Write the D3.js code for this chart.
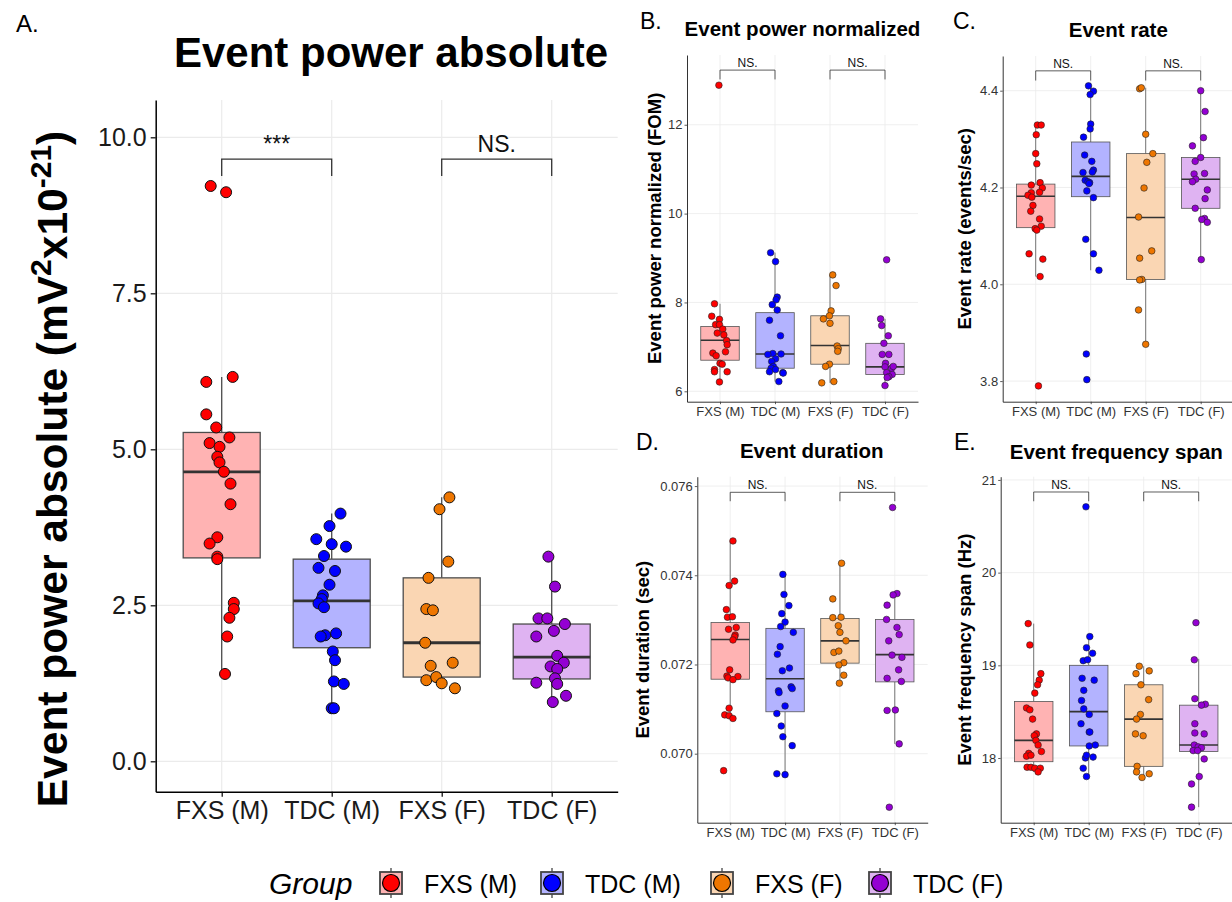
<!DOCTYPE html>
<html><head><meta charset="utf-8">
<script src="https://cdn.jsdelivr.net/npm/d3@7"></script>
<style>body{margin:0;background:#fff;} svg{display:block;font-family:"Liberation Sans",Arial,Helvetica,sans-serif;}</style>
</head><body><svg id="c" width="1232" height="902"></svg>
<script>
// ---------------- DATA ----------------
const groups = ["FXS (M)", "TDC (M)", "FXS (F)", "TDC (F)"];
const pointColors = ["#FF0000", "#0000FF", "#EE7600", "#9400D3"];
const boxFills = ["#FFB3B3", "#B3B3FF", "#FAD6B3", "#DFB3F2"];
const sigPairs = [[0, 1], [2, 3]];

// A. Event power absolute
const powerAbsValues = [
  [9.22,9.12,6.16,6.08,5.56,5.35,5.19,5.10,5.04,4.88,4.79,4.64,4.45,4.12,3.59,3.49,3.28,3.24,2.54,2.44,2.30,2.00,1.40],
  [3.97,3.77,3.56,3.48,3.44,3.29,3.10,3.05,2.83,2.66,2.60,2.53,2.47,2.05,2.02,2.00,1.76,1.62,1.28,1.24,0.85,0.85],
  [4.23,4.04,3.20,2.94,2.44,2.42,1.90,1.58,1.53,1.30,1.35,1.25,1.17],
  [3.28,2.80,2.29,2.29,2.20,2.09,2.00,1.69,1.58,1.52,1.48,1.33,1.26,1.24,1.05,0.95]
];
const powerAbsJitter = [
  [-0.10,0.04,0.10,-0.14,-0.14,-0.05,0.07,-0.11,-0.02,-0.04,-0.02,0.02,0.08,0.08,-0.04,-0.11,-0.04,-0.04,0.11,0.11,0.07,0.05,0.03],
  [0.08,-0.02,-0.14,0.00,0.13,-0.07,-0.12,0.03,-0.02,-0.08,-0.09,-0.12,-0.07,0.04,-0.06,-0.10,0.01,0.03,0.02,0.11,0.00,0.02],
  [0.07,-0.02,0.06,-0.12,-0.14,-0.08,-0.15,0.10,-0.10,-0.14,-0.05,0.00,0.12],
  [-0.03,0.03,-0.12,-0.04,0.12,0.02,-0.14,0.05,0.11,-0.01,0.05,0.03,-0.14,0.05,0.13,0.01]
];
const powerAbsBoxes = [[1.40,3.26,4.64,5.27,6.16],[0.85,1.82,2.57,3.24,3.97],[1.17,1.35,1.90,2.94,4.23],[0.95,1.32,1.67,2.20,3.28]];
const powerAbsTicks = [0, 2.5, 5, 7.5, 10];
const powerAbsSigLabels = ["***", "NS."];
const powerAbsSigLevels = [9.65, 9.38];

// B. Event power normalized
const powerNormValues = [
  [12.89,7.97,7.69,7.62,7.50,7.50,7.40,7.31,7.27,7.14,7.05,6.89,6.86,6.80,6.63,6.61,6.49,6.44,6.44,6.21],
  [9.12,8.92,8.12,8.06,7.95,7.83,7.60,7.25,6.85,6.83,6.84,6.73,6.67,6.56,6.52,6.49,6.44,6.42,6.41,6.22],
  [8.62,8.38,7.81,7.70,7.63,7.53,7.02,6.96,6.90,6.61,6.56,6.19,6.22],
  [8.96,7.63,7.48,7.25,7.08,6.83,6.83,6.63,6.55,6.52,6.56,6.38,6.42,6.33,6.31,6.13]
];
const powerNormJitter = [
  [-0.02,-0.10,-0.15,-0.01,-0.08,-0.01,0.05,-0.05,0.07,0.12,0.13,0.10,-0.13,-0.07,0.00,0.04,-0.10,-0.10,0.13,-0.01],
  [-0.08,0.01,0.04,0.02,-0.05,0.04,-0.10,0.10,-0.04,-0.13,0.11,0.01,-0.06,-0.03,-0.07,0.01,-0.10,0.14,0.15,0.07],
  [0.05,0.11,0.02,-0.01,-0.12,0.00,0.13,0.15,0.14,-0.01,-0.08,-0.15,0.07],
  [0.03,-0.08,-0.06,0.06,-0.02,-0.05,0.07,0.01,0.00,0.12,0.15,0.13,0.03,0.07,0.04,0.00]
];
const powerNormBoxes = [[6.21,6.70,7.15,7.46,7.97],[6.22,6.52,6.84,7.77,9.12],[6.19,6.61,7.03,7.70,8.62],[6.13,6.38,6.55,7.08,7.63]];
const powerNormTicks = [6, 8, 10, 12];
const powerNormSigLabels = ["NS.", "NS."];
const powerNormSigLevels = [13.23, 13.02];

// C. Event rate
const rateValues = [
  [4.329,4.329,4.309,4.270,4.249,4.205,4.210,4.199,4.190,4.189,4.184,4.180,4.163,4.151,4.135,4.120,4.115,4.112,4.063,4.052,4.016,3.790],
  [4.410,4.399,4.392,4.331,4.321,4.304,4.267,4.254,4.236,4.232,4.231,4.215,4.212,4.210,4.208,4.193,4.179,4.093,4.063,4.029,3.856,3.803],
  [4.404,4.406,4.310,4.270,4.252,4.199,4.139,4.069,4.054,4.010,4.009,3.947,3.876],
  [4.400,4.357,4.303,4.286,4.254,4.262,4.229,4.228,4.217,4.212,4.195,4.177,4.157,4.136,4.134,4.128,4.051]
];
const rateJitter = [
  [0.03,0.10,0.01,0.00,0.02,-0.08,0.08,0.12,0.07,-0.08,-0.14,-0.07,-0.05,-0.09,0.07,0.10,-0.01,0.02,-0.12,0.13,0.08,0.05],
  [-0.04,0.05,-0.01,0.00,-0.01,-0.13,-0.11,0.02,0.05,0.03,-0.14,-0.10,-0.05,-0.02,-0.03,-0.07,0.05,-0.09,0.05,0.15,-0.08,-0.07],
  [-0.11,-0.08,0.00,0.13,0.02,-0.03,-0.13,0.11,-0.11,-0.07,-0.11,-0.13,0.00],
  [0.00,0.08,0.05,-0.15,-0.10,0.00,0.07,-0.12,-0.09,-0.15,0.12,0.08,-0.10,0.07,0.02,0.12,0.01]
];
const rateBoxes = [[4.016,4.117,4.182,4.207,4.329],[4.029,4.181,4.223,4.294,4.410],[3.876,4.010,4.138,4.270,4.406],[4.051,4.157,4.217,4.262,4.400]];
const rateTicks = [3.8, 4.0, 4.2, 4.4];
const rateSigLabels = ["NS.", "NS."];
const rateSigLevels = [4.441, 4.421];

// D. Event duration
const durationValues = [
  [0.07477,0.07387,0.07377,0.07323,0.07306,0.07307,0.07279,0.07283,0.07266,0.07262,0.07255,0.07188,0.07174,0.07170,0.07173,0.07166,0.07102,0.07087,0.07085,0.07079,0.06962],
  [0.07402,0.07357,0.07332,0.07314,0.07295,0.07285,0.07272,0.07240,0.07223,0.07192,0.07186,0.07150,0.07146,0.07141,0.07137,0.07107,0.07090,0.07062,0.07038,0.07018,0.06955,0.06953],
  [0.07427,0.07347,0.07305,0.07306,0.07287,0.07272,0.07253,0.07227,0.07230,0.07204,0.07199,0.07176,0.07158],
  [0.07552,0.07359,0.07356,0.07333,0.07301,0.07283,0.07267,0.07253,0.07221,0.07216,0.07188,0.07169,0.07162,0.07097,0.07098,0.07022,0.06880]
];
const durationJitter = [
  [0.05,0.08,-0.02,-0.07,-0.05,0.04,-0.03,0.11,0.09,0.08,0.05,-0.01,-0.06,-0.04,0.14,0.05,-0.02,-0.10,-0.02,0.05,-0.12],
  [-0.04,-0.02,0.07,-0.06,0.00,-0.08,0.15,-0.09,-0.14,0.08,-0.05,0.11,0.13,-0.12,-0.11,0.00,-0.15,-0.07,-0.04,0.13,-0.15,0.00],
  [0.03,-0.13,-0.13,0.02,-0.03,0.00,0.11,-0.11,-0.02,0.07,-0.02,0.07,-0.01],
  [-0.04,0.04,-0.03,-0.14,-0.15,0.04,0.08,-0.11,-0.05,0.13,0.07,-0.14,0.12,-0.14,0.01,0.08,-0.10]
];
const durationBoxes = [[0.07079,0.07167,0.07256,0.07294,0.07477],[0.06953,0.07094,0.07168,0.07281,0.07402],[0.07158,0.07203,0.07253,0.07303,0.07427],[0.07022,0.07161,0.07222,0.07301,0.07359]];
const durationTicks = [0.070, 0.072, 0.074, 0.076];
const durationSigLabels = ["NS.", "NS."];
const durationSigLevels = [0.07586, 0.07566];

// E. Event frequency span
const spanValues = [
  [19.45,19.22,18.91,18.84,18.79,18.70,18.54,18.52,18.42,18.26,18.24,18.19,18.14,18.07,18.05,18.02,18.03,17.90,17.90,17.89,17.89,17.85],
  [20.71,19.31,19.19,19.13,19.05,19.06,18.86,18.84,18.73,18.62,18.53,18.47,18.37,18.28,18.28,18.14,18.13,18.01,18.00,18.03,17.89,17.80],
  [18.99,18.94,18.91,18.79,18.63,18.47,18.42,18.26,18.24,17.91,17.85,17.83,17.79],
  [19.46,19.06,18.64,18.58,18.57,18.37,18.27,18.26,18.14,18.12,18.11,18.08,18.08,17.99,17.80,17.72,17.47]
];
const spanJitter = [
  [-0.10,-0.07,0.13,0.10,0.07,0.02,-0.13,-0.07,-0.02,0.05,0.01,0.04,0.08,0.14,-0.09,-0.13,-0.05,-0.12,-0.05,0.02,0.12,0.08],
  [-0.05,0.02,-0.04,0.07,-0.10,-0.02,-0.12,0.10,-0.09,-0.13,-0.09,0.01,-0.14,0.01,0.02,0.12,0.01,0.08,-0.06,-0.04,-0.10,-0.04],
  [-0.08,0.10,-0.14,-0.05,0.09,-0.06,-0.13,-0.15,-0.01,-0.12,-0.13,0.10,-0.03],
  [-0.05,-0.08,-0.07,0.12,0.05,-0.07,-0.07,0.10,-0.08,-0.01,0.05,-0.10,-0.02,0.10,0.01,-0.13,-0.13]
];
const spanBoxes = [[17.85,17.96,18.19,18.61,19.45],[17.80,18.13,18.50,19.00,19.31],[17.79,17.91,18.42,18.79,18.99],[17.47,18.07,18.14,18.57,19.07]];
const spanTicks = [18, 19, 20, 21];
const spanSigLabels = ["NS.", "NS."];
const spanSigLevels = [20.87, 20.77];

// ---------------- DRAWING ----------------
const svg = d3.select("#c");
const FONT = '"Liberation Sans", Arial, Helvetica, sans-serif';

const bigStyle = {tickFont:25, tickLen:5, padY:4, padX:5, axisW:1.5, axisColor:"#000", tickColor:"#1a1a1a",
  grid:1.2, r:5.5, pStroke:1, pStrokeColor:"#111", boxStroke:1.3, medW:2.8, whW:1.3, sigFont:23, sigW:1.3, sigGap:7, boxColor:"#4d4d4d"};
const smallStyle = {tickFont:13, tickLen:2.5, padY:2, padX:3, axisW:1, axisColor:"#333", tickColor:"#333",
  grid:0.8, r:3.3, pStroke:0.6, pStrokeColor:"#222", boxStroke:0.8, medW:1.6, whW:0.8, sigFont:12, sigW:0.8, sigGap:3, boxColor:"#555"};

const panels = [
  {values:powerAbsValues, jitter:powerAbsJitter, boxes:powerAbsBoxes, ticks:powerAbsTicks, fmt:d3.format(".1f"),
   sigLabels:powerAbsSigLabels, sigLevels:powerAbsSigLevels, x0:155.7, x1:617.7, y0:100, y1:791.7, yDom:[-0.487,10.598], s:bigStyle},
  {values:powerNormValues, jitter:powerNormJitter, boxes:powerNormBoxes, ticks:powerNormTicks, fmt:d3.format("d"),
   sigLabels:powerNormSigLabels, sigLevels:powerNormSigLevels, x0:687, x1:918, y0:55, y1:401.7, yDom:[5.766,13.57], s:smallStyle,
   title:"Event power normalized", titleX:802.5, titleY:36, letter:"B.", letterX:640, letterY:29,
   ytitle:"Event power normalized (FOM)", ytX:661},
  {values:rateValues, jitter:rateJitter, boxes:rateBoxes, ticks:rateTicks, fmt:d3.format(".1f"),
   sigLabels:rateSigLabels, sigLevels:rateSigLevels, x0:1002.7, x1:1233.7, y0:56, y1:401.7, yDom:[3.7574,4.4717], s:smallStyle,
   title:"Event rate", titleX:1118.3, titleY:36.5, letter:"C.", letterX:953, letterY:29,
   ytitle:"Event rate (events/sec)", ytX:971},
  {values:durationValues, jitter:durationJitter, boxes:durationBoxes, ticks:durationTicks, fmt:d3.format(".3f"),
   sigLabels:durationSigLabels, sigLevels:durationSigLevels, x0:697.3, x1:927.7, y0:476.7, y1:822.7, yDom:[0.068453,0.07621], s:smallStyle,
   title:"Event duration", titleX:811.7, titleY:458, letter:"D.", letterX:636, letterY:450,
   ytitle:"Event duration (sec)", ytX:649},
  {values:spanValues, jitter:spanJitter, boxes:spanBoxes, ticks:spanTicks, fmt:d3.format("d"),
   sigLabels:spanSigLabels, sigLevels:spanSigLevels, x0:1000.7, x1:1231.7, y0:476.7, y1:822.7, yDom:[17.302,21.035], s:smallStyle,
   title:"Event frequency span", titleX:1116.3, titleY:459, letter:"E.", letterX:954, letterY:450,
   ytitle:"Event frequency span (Hz)", ytX:971}
];

function drawPanel(p) {
  const s = p.s;
  const g = svg.append("g");
  const x = d3.scalePoint().domain(groups).range([p.x0, p.x1]).padding(0.6);
  const step = x.step();
  const y = d3.scaleLinear().domain(p.yDom).range([p.y1, p.y0]);

  // grid
  g.append("g").selectAll("line").data(p.ticks).join("line")
    .attr("x1", p.x0).attr("x2", p.x1).attr("y1", d => y(d)).attr("y2", d => y(d))
    .attr("stroke", "#EBEBEB").attr("stroke-width", s.grid);
  g.append("g").selectAll("line").data(groups).join("line")
    .attr("x1", d => x(d)).attr("x2", d => x(d)).attr("y1", p.y0).attr("y2", p.y1)
    .attr("stroke", "#EBEBEB").attr("stroke-width", s.grid);

  // boxes
  const bw = step * 0.7;
  const bg = g.append("g");
  groups.forEach((grp, i) => {
    const [lo, q1, md, q3, hi] = p.boxes[i];
    const cx = x(grp);
    bg.append("line").attr("x1", cx).attr("x2", cx).attr("y1", y(lo)).attr("y2", y(q1))
      .attr("stroke", s.boxColor).attr("stroke-width", s.whW);
    bg.append("line").attr("x1", cx).attr("x2", cx).attr("y1", y(q3)).attr("y2", y(hi))
      .attr("stroke", s.boxColor).attr("stroke-width", s.whW);
    bg.append("rect").attr("x", cx - bw / 2).attr("y", y(q3)).attr("width", bw).attr("height", y(q1) - y(q3))
      .attr("fill", boxFills[i]).attr("stroke", s.boxColor).attr("stroke-width", s.boxStroke);
    bg.append("line").attr("x1", cx - bw / 2).attr("x2", cx + bw / 2).attr("y1", y(md)).attr("y2", y(md))
      .attr("stroke", "#333").attr("stroke-width", s.medW);
  });

  // points
  groups.forEach((grp, i) => {
    g.append("g").selectAll("circle")
      .data(p.values[i].map((v, j) => ({v, j: p.jitter[i][j]})))
      .join("circle")
      .attr("cx", d => x(grp) + d.j * step).attr("cy", d => y(d.v)).attr("r", s.r)
      .attr("fill", pointColors[i]).attr("stroke", s.pStrokeColor).attr("stroke-width", s.pStroke);
  });

  // significance brackets
  sigPairs.forEach(([a, b], k) => {
    const xa = x(groups[a]), xb = x(groups[b]);
    const yt = y(p.sigLevels[0]), yb = y(p.sigLevels[1]);
    g.append("path").attr("d", `M${xa},${yb}V${yt}H${xb}V${yb}`)
      .attr("fill", "none").attr("stroke", "#333").attr("stroke-width", s.sigW);
    g.append("text").attr("x", (xa + xb) / 2).attr("y", yt - s.sigGap)
      .attr("text-anchor", "middle").attr("font-size", s.sigFont).attr("fill", "#111")
      .attr("font-family", FONT).text(p.sigLabels[k]);
  });

  // axes
  const ya = d3.axisLeft(y).tickValues(p.ticks).tickFormat(p.fmt).tickSize(s.tickLen).tickSizeOuter(0).tickPadding(s.padY);
  const yg = g.append("g").attr("transform", `translate(${p.x0},0)`).call(ya);
  const xa = d3.axisBottom(x).tickSize(s.tickLen).tickSizeOuter(0).tickPadding(s.padX);
  const xg = g.append("g").attr("transform", `translate(0,${p.y1})`).call(xa);
  [yg, xg].forEach(ax => {
    ax.select(".domain").attr("stroke", s.axisColor).attr("stroke-width", s.axisW);
    ax.selectAll(".tick line").attr("stroke", s.axisColor).attr("stroke-width", s.axisW * 0.8);
    ax.selectAll(".tick text").attr("font-size", s.tickFont).attr("fill", s.tickColor).attr("font-family", FONT);
  });

  if (p.title) {
    svg.append("text").attr("x", p.titleX).attr("y", p.titleY).attr("text-anchor", "middle")
      .attr("font-size", 20.5).attr("font-weight", "bold").attr("font-family", FONT).attr("fill", "#000").text(p.title);
    svg.append("text").attr("x", p.letterX).attr("y", p.letterY)
      .attr("font-size", 23).attr("font-family", FONT).attr("fill", "#000").text(p.letter);
    svg.append("text").attr("transform", `translate(${p.ytX},${(p.y0 + p.y1) / 2}) rotate(-90)`)
      .attr("text-anchor", "middle").attr("font-size", 18.5).attr("font-weight", "bold")
      .attr("font-family", FONT).attr("fill", "#000").text(p.ytitle);
  }
}

panels.forEach(drawPanel);

// Panel A titles
svg.append("text").attr("x", 16).attr("y", 32).attr("font-size", 24).attr("font-family", FONT).text("A.");
svg.append("text").attr("x", 391).attr("y", 67).attr("text-anchor", "middle")
  .attr("font-size", 42).attr("font-weight", "bold").attr("font-family", FONT).text("Event power absolute");
const yt = svg.append("text").attr("transform", `translate(67,469) rotate(-90)`)
  .attr("text-anchor", "middle").attr("font-size", 42.5).attr("font-weight", "bold").attr("font-family", FONT);
yt.append("tspan").text("Event power absolute (mV");
yt.append("tspan").attr("font-size", 30).attr("dy", -16).text("2");
yt.append("tspan").attr("dy", 16).text("x10");
yt.append("tspan").attr("font-size", 30).attr("dy", -16).text("-21");
yt.append("tspan").attr("dy", 16).text(")");

// Legend
const legendY = 883;
svg.append("text").attr("x", 269).attr("y", legendY + 11).attr("font-size", 30).attr("font-style", "italic")
  .attr("font-family", FONT).text("Group");
const keyCenters = [391, 552, 722, 880];
groups.forEach((grp, i) => {
  const cx = keyCenters[i];
  const lg = svg.append("g");
  lg.append("line").attr("x1", cx).attr("x2", cx).attr("y1", legendY - 15).attr("y2", legendY + 15)
    .attr("stroke", "#444").attr("stroke-width", 1.3);
  lg.append("rect").attr("x", cx - 11).attr("y", legendY - 11).attr("width", 22).attr("height", 22)
    .attr("fill", boxFills[i]).attr("stroke", "#444").attr("stroke-width", 1.8);
  lg.append("circle").attr("cx", cx).attr("cy", legendY).attr("r", 8.5)
    .attr("fill", pointColors[i]).attr("stroke", "#000").attr("stroke-width", 1.2);
  lg.append("text").attr("x", cx + 33).attr("y", legendY + 10).attr("font-size", 25)
    .attr("font-family", FONT).attr("fill", "#000").text(grp);
});
</script></body></html>
